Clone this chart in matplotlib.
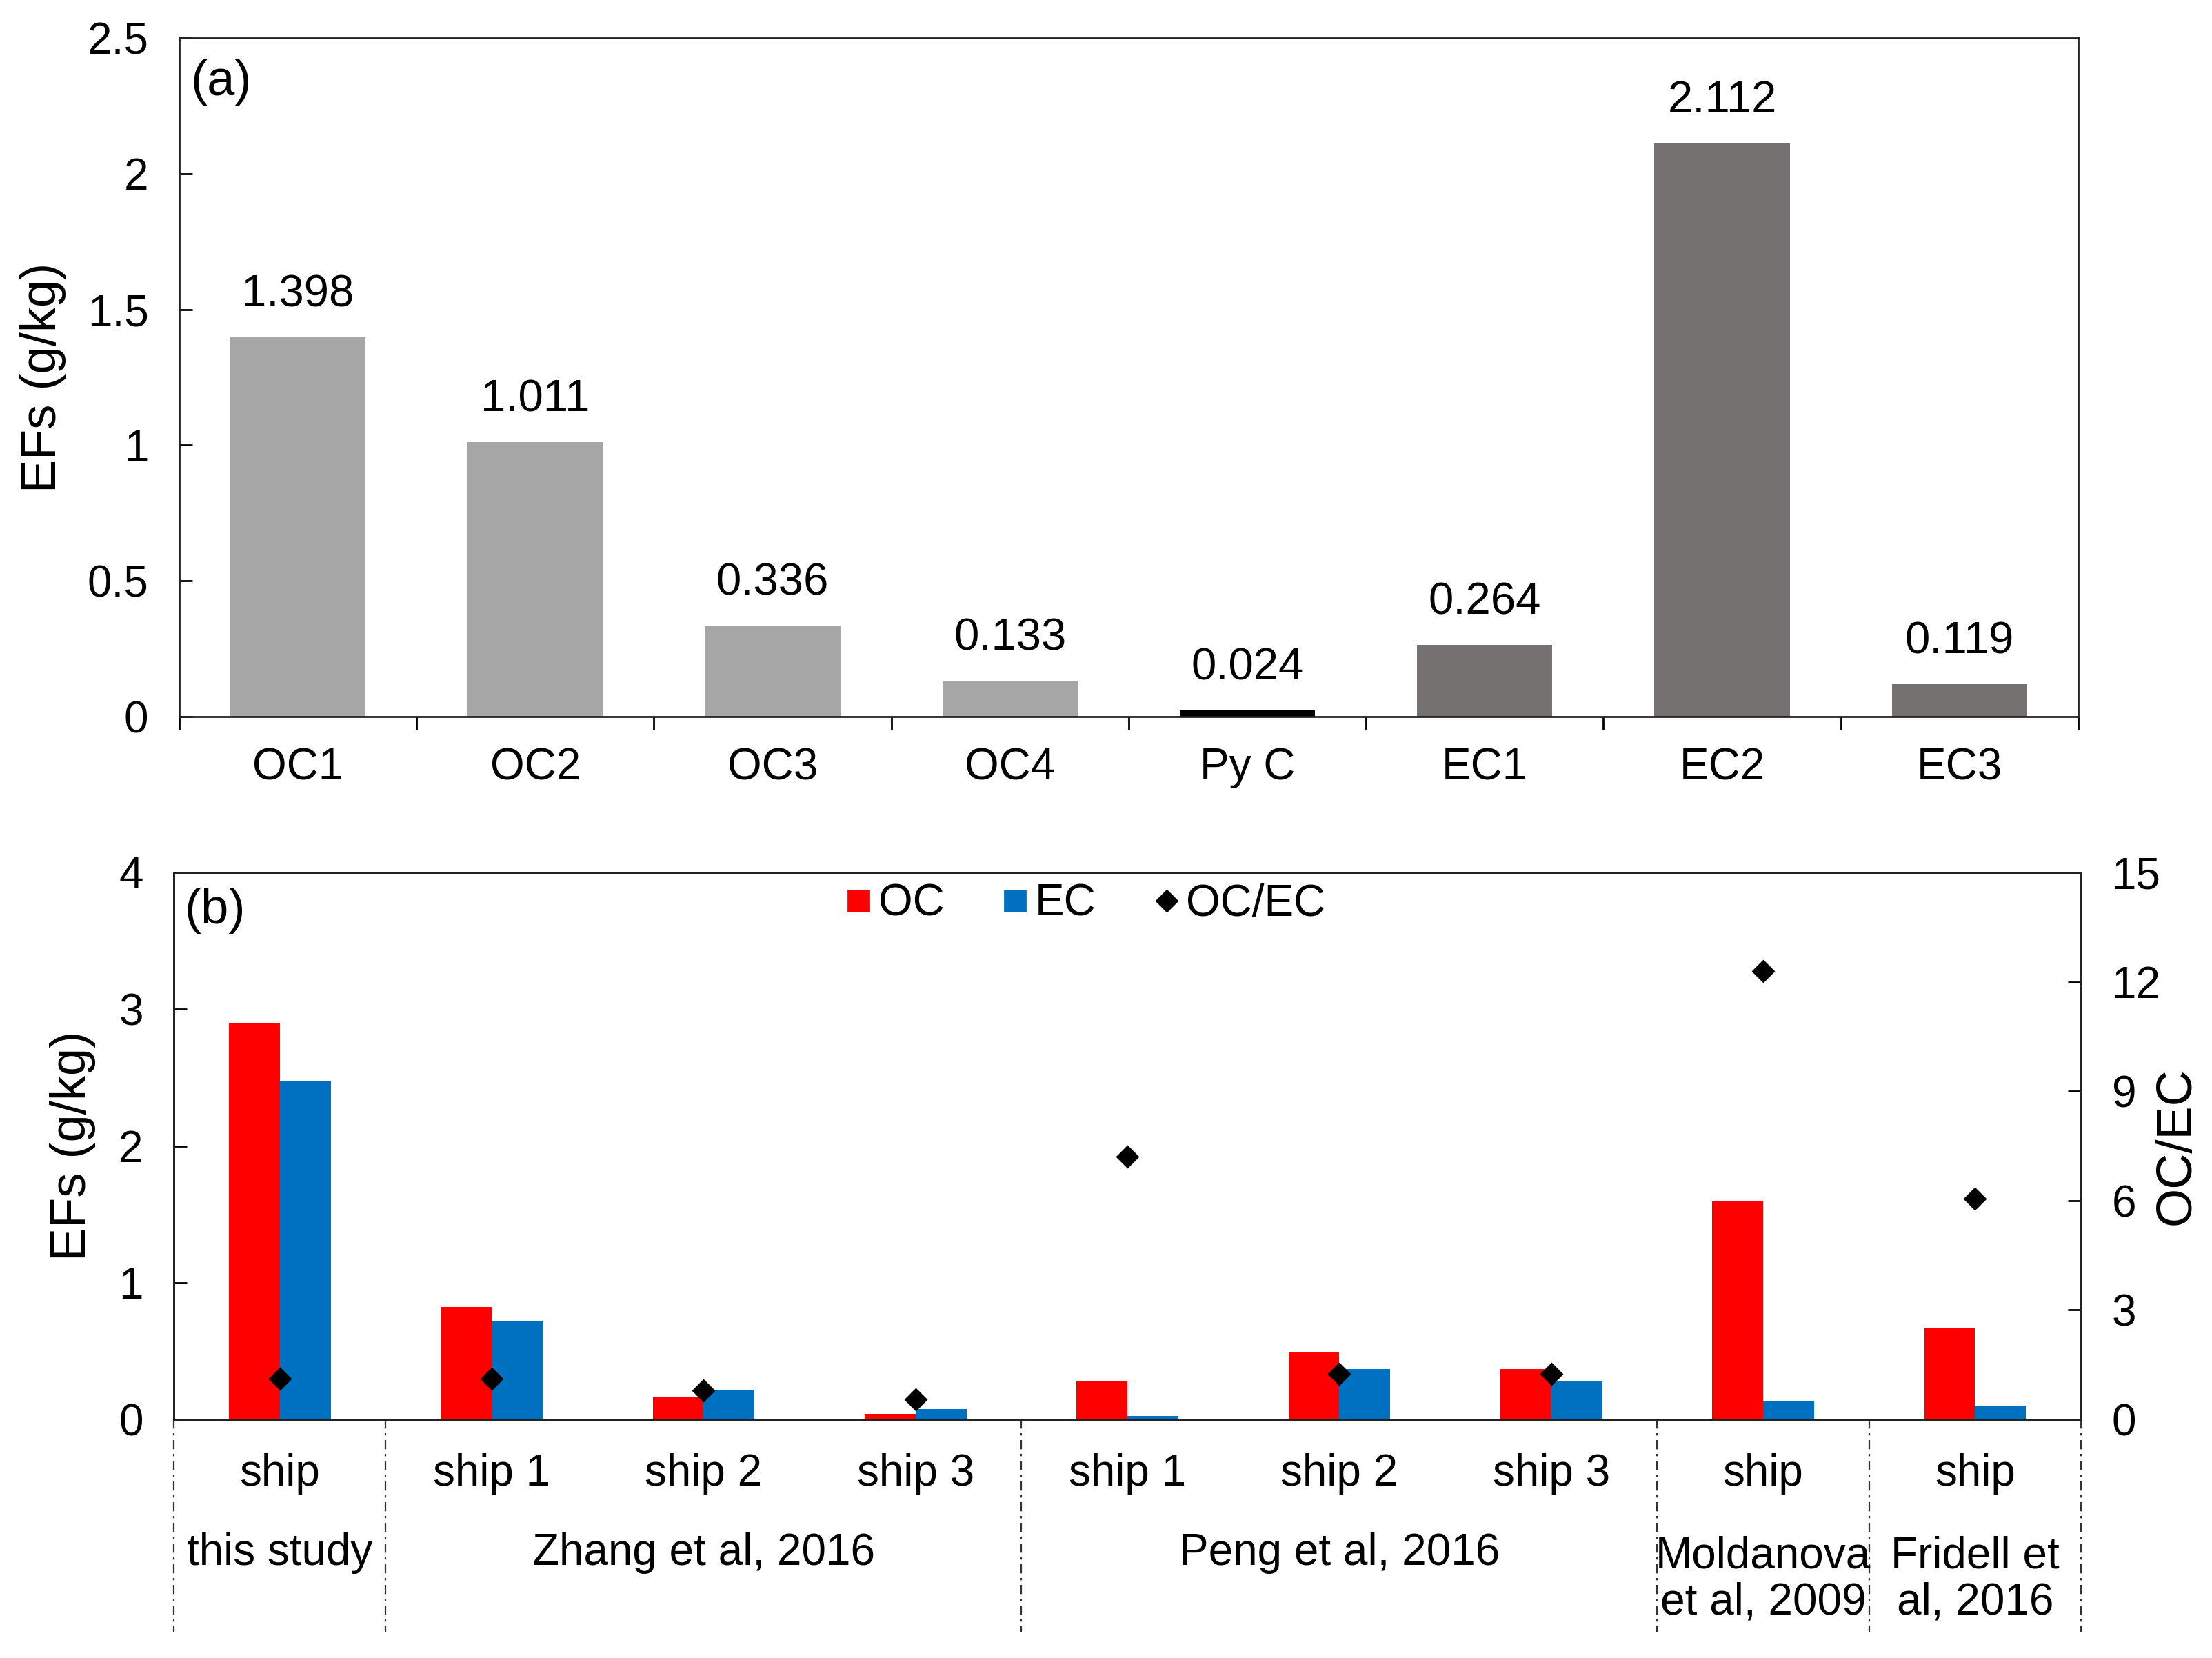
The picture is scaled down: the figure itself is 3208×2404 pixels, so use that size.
import matplotlib
matplotlib.use('Agg')
import matplotlib.pyplot as plt
import matplotlib.transforms as mtransforms
from matplotlib.lines import Line2D
import numpy as np

plt.rcParams['font.family'] = ['Liberation Sans', 'DejaVu Sans']

# panel (a): carbon fractions
frac_names = ['OC1', 'OC2', 'OC3', 'OC4', 'Py C', 'EC1', 'EC2', 'EC3']
frac_values = [1.398, 1.011, 0.336, 0.133, 0.024, 0.264, 2.112, 0.119]
frac_colors = ['#A6A6A6'] * 4 + ['#000000'] + ['#767171'] * 3

# panel (b): comparison with literature
ship_labels = ['ship', 'ship 1', 'ship 2', 'ship 3', 'ship 1', 'ship 2', 'ship 3', 'ship', 'ship']
oc_values = [2.90, 0.82, 0.165, 0.04, 0.285, 0.49, 0.37, 1.60, 0.665]
ec_values = [2.47, 0.72, 0.215, 0.075, 0.025, 0.37, 0.285, 0.13, 0.095]
ratio_values = [1.12, 1.12, 0.80, 0.55, 7.2, 1.25, 1.25, 12.3, 6.05]
group_names = ['this study', 'Zhang et al, 2016', 'Peng et al, 2016',
               'Moldanova\net al, 2009', 'Fridell et\nal, 2016']
group_sizes = [1, 3, 3, 1, 1]

RED = '#FF0000'
BLUE = '#0070C0'
TICK_FS = 23
LABEL_FS = 26


def style_axis(ax):
    for sp in ax.spines.values():
        sp.set_linewidth(1.0)
        sp.set_color('#222222')
    ax.tick_params(axis='y', direction='in', length=7, width=1.0, pad=16, labelsize=TICK_FS)


fig = plt.figure(figsize=(16.04, 12.02), dpi=200)

# ---------------- (a)
ax1 = fig.add_axes([0.0810, 0.5678, 0.8585, 0.4093])
x = np.arange(len(frac_names))
ax1.bar(x, frac_values, width=0.57, color=frac_colors, zorder=2)
for xi, v in zip(x, frac_values):
    ax1.annotate(f'{v:.3f}', (xi, v), xytext=(0, 16), textcoords='offset points',
                 ha='center', va='baseline', fontsize=23.5)
ax1.set_xlim(-0.5, len(frac_names) - 0.5)
ax1.set_ylim(0, 2.5)
ax1.set_yticks([0, 0.5, 1, 1.5, 2, 2.5])
ax1.set_yticklabels(['0', '0.5', '1', '1.5', '2', '2.5'])
ax1.set_xticks(x)
ax1.set_xticklabels(frac_names)
ax1.set_xticks(np.arange(len(frac_names) + 1) - 0.5, minor=True)
style_axis(ax1)
ax1.tick_params(axis='x', which='major', length=0, pad=16, labelsize=TICK_FS)
ax1.tick_params(axis='x', which='minor', direction='out', length=7, width=1.0)
ax1.set_ylabel('EFs (g/kg)', fontsize=LABEL_FS)
ax1.yaxis.set_label_coords(-0.0596, 0.5)
ax1.text(0.006, 0.935, '(a)', transform=ax1.transAxes, fontsize=26, ha='left', va='center')

# ---------------- (b)
ax2 = fig.add_axes([0.0786, 0.1439, 0.8622, 0.3299])
xb = np.arange(len(ship_labels))
bw = 0.24
ax2.bar(xb - bw / 2, oc_values, width=bw, color=RED, zorder=2)
ax2.bar(xb + bw / 2, ec_values, width=bw, color=BLUE, zorder=2)
ax2.set_xlim(-0.5, len(ship_labels) - 0.5)
ax2.set_ylim(0, 4)
ax2.set_yticks([0, 1, 2, 3, 4])
ax2.set_xticks([])
style_axis(ax2)
ax2.set_ylabel('EFs (g/kg)', fontsize=LABEL_FS)
ax2.yaxis.set_label_coords(-0.041, 0.5)
ax2.text(0.0055, 0.93, '(b)', transform=ax2.transAxes, fontsize=26, ha='left', va='center')

ax3 = ax2.twinx()
ax3.plot(xb, ratio_values, linestyle='none', marker='D', markersize=7.5,
         color='black', zorder=3)
ax3.set_ylim(0, 15)
ax3.set_yticks([0, 3, 6, 9, 12, 15])
style_axis(ax3)
ax3.set_ylabel('OC/EC', fontsize=LABEL_FS)
ax3.yaxis.set_label_coords(1.038, 0.5)

# category labels and group separators below the axis
trans = mtransforms.blended_transform_factory(ax2.transData, ax2.transAxes)
for xi, lab in zip(xb, ship_labels):
    ax2.text(xi, -0.10, lab, transform=trans, ha='center', va='center', fontsize=23)
edges = np.concatenate([[0], np.cumsum(group_sizes)]) - 0.5
for gi, name in enumerate(group_names):
    center = (edges[gi] + edges[gi + 1]) / 2
    yy = -0.245 if '\n' not in name else -0.292
    ax2.text(center, yy, name, transform=trans, ha='center', va='center',
             fontsize=23, linespacing=1.15)
for e in edges:
    ax2.plot([e, e], [0, -0.39], transform=trans, clip_on=False, color='#333333',
             lw=0.8, linestyle=(0, (6, 3, 1.5, 3)))

handles = [
    Line2D([], [], linestyle='none', marker='s', markersize=10.5, color=RED),
    Line2D([], [], linestyle='none', marker='s', markersize=10.5, color=BLUE),
    Line2D([], [], linestyle='none', marker='D', markersize=7.5, color='black'),
]
ax3.legend(handles, ['OC', 'EC', 'OC/EC'], ncol=3, frameon=False, fontsize=23,
           loc='center', bbox_to_anchor=(0.478, 0.942), handlelength=0.6,
           handletextpad=0.15, columnspacing=1.3, borderpad=0)

fig.savefig('out.png', dpi=200)
